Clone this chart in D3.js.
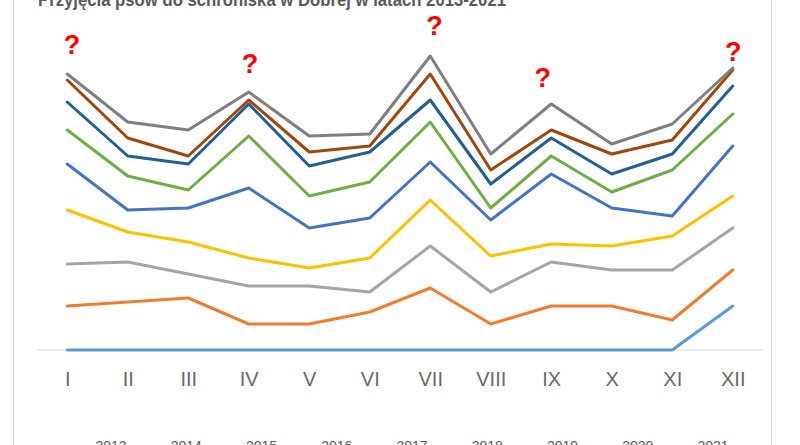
<!DOCTYPE html>
<html>
<head>
<meta charset="utf-8">
<script src="https://cdn.jsdelivr.net/npm/d3@7"></script>
<style>
    body { margin: 0; background: #fff; }
    svg { display: block; font-family: 'Liberation Sans', Arial, sans-serif; }
</style>
</head>
<body>
<script>
// months and intake per year (dogs)
let months = ['I','II','III','IV','V','VI','VII','VIII','IX','X','XI','XII'];
let years = ['2013','2014','2015','2016','2017','2018','2019','2020','2021'];

let y2013 = [0,0,0,0,0,0,0,0,0,0,0,22];
let y2014 = [22,24,26,13,13,19,31,13,22,22,15,18];
let y2015 = [21,20,12,19,19,10,21,16,22,18,25,21];
let y2016 = [27,15,16,14,9,17,23,18,9,12,17,16];
let y2017 = [23,11,17,35,20,20,19,18,35,19,10,25];
let y2018 = [17,17,9,26,16,18,20,6,9,8,23,16];
let y2019 = [14,10,13,16,15,15,11,12,9,9,8,14];
let y2020 = [11,9,4,2,7,3,13,7,4,10,7,8];
let y2021 = [3,8,13,4,8,6,9,8,13,5,8,1];

let colors = ['#5B9BD5','#ED7D31','#A5A5A5','#FFC000','#4472C4','#70AD47','#255E91','#9E480E','#7F7F7F'];

// red question marks: month position (index) and height in data units
let marks = [
    {pos: 0.08, value: 148},
    {pos: 3.02, value: 138.5},
    {pos: 6.07, value: 157.5},
    {pos: 7.86, value: 131.5},
    {pos: 11.01, value: 144.5}
];

let title = 'Przyjęcia psów do schroniska w Dobrej  w latach 2013-2021';

let width = 800, height = 445;
let margins = {top: 30, right: 37, bottom: 95, left: 37};

let svg = d3.select('body').append('svg')
    .attr('width', width)
    .attr('height', height);

// chart frame (cropped at top and bottom like the source)
svg.append('rect')
    .attr('x', 13.5).attr('y', -30)
    .attr('width', 758).attr('height', 520)
    .attr('fill', '#fff')
    .attr('stroke', '#D9D9D9');

svg.append('text')
    .attr('x', 38).attr('y', 6)
    .attr('fill', '#595959')
    .attr('font-size', 18)
    .attr('font-weight', 'bold')
    .attr('textLength', 468)
    .attr('lengthAdjust', 'spacingAndGlyphs')
    .text(title);

let series = [y2013,y2014,y2015,y2016,y2017,y2018,y2019,y2020,y2021];
let table = months.map((m, i) => {
    let row = {month: m};
    years.forEach((y, j) => { row[y] = series[j][i]; });
    return row;
});
let stacked = d3.stack().keys(years)(table);

let plotW = width - margins.left - margins.right;
let step = plotW / months.length;

let xScale = d3.scaleLinear()
    .domain([0, months.length - 1])
    .range([margins.left + step/2, width - margins.right - step/2]);
let yScale = d3.scaleLinear()
    .domain([0, 160])
    .range([height - margins.bottom, height - margins.bottom - 320]);

let base = yScale(0);

svg.append('line')
    .attr('x1', margins.left).attr('x2', width - margins.right)
    .attr('y1', base).attr('y2', base)
    .attr('stroke', '#D9D9D9');

let xAxis = svg.append('g')
    .attr('transform', `translate(0,${base})`)
    .call(d3.axisBottom(xScale)
        .tickValues(d3.range(months.length))
        .tickFormat(i => months[i])
        .tickSize(0)
        .tickPadding(22));
xAxis.select('.domain').remove();
xAxis.selectAll('text')
    .attr('fill', '#6a6a6a')
    .attr('font-size', 20)
    .attr('font-family', "'Liberation Sans', Arial, sans-serif");

let line = d3.line()
    .x((d, i) => xScale(i))
    .y(d => yScale(d[1]));

svg.selectAll('path.line')
    .data(stacked)
    .enter().append('path')
    .classed('line', true)
    .attr('d', d => line(d))
    .attr('fill', 'none')
    .attr('stroke', (d, i) => colors[i])
    .attr('stroke-width', 3)
    .attr('stroke-linejoin', 'round')
    .attr('stroke-linecap', 'round');

svg.selectAll('text.mark')
    .data(marks)
    .enter().append('text')
    .classed('mark', true)
    .attr('x', d => xScale(d.pos))
    .attr('y', d => yScale(d.value))
    .attr('text-anchor', 'middle')
    .attr('fill', '#FF0000')
    .attr('font-size', 27)
    .attr('font-weight', 'bold')
    .text('?');

// legend, mostly below the visible edge
let legend = svg.append('g')
    .attr('transform', 'translate(60,448)');
let entry = legend.selectAll('g')
    .data(years)
    .enter().append('g')
    .attr('transform', (d, i) => `translate(${i*75.25},0)`);
entry.append('line')
    .attr('x1', 0).attr('x2', 28)
    .attr('stroke', (d, i) => colors[i])
    .attr('stroke-width', 3);
entry.append('text')
    .attr('x', 35.5).attr('y', 3)
    .attr('fill', '#595959')
    .attr('font-size', 14)
    .text(d => d);
</script>
</body>
</html>
